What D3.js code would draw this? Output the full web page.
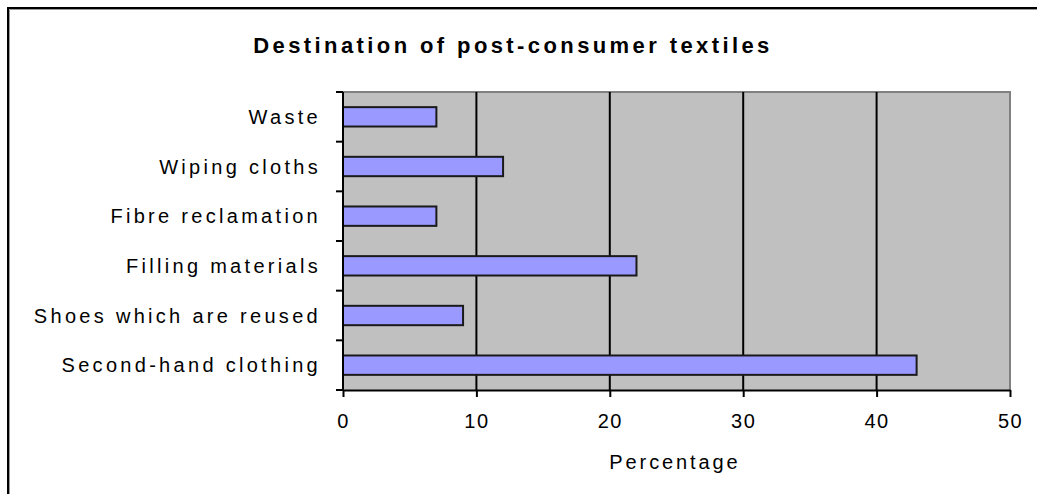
<!DOCTYPE html>
<html>
<head>
<meta charset="utf-8">
<script src="https://cdn.jsdelivr.net/npm/d3@7"></script>
<style>
  body { margin: 0; background: #fff; }
  svg { display: block; }
  text { font-family: "Liberation Sans", Arial, sans-serif; fill: #000; }
</style>
</head>
<body>
<figure id="chart" style="margin:0"></figure>
<script>
// values
const categories = ['Waste', 'Wiping cloths', 'Fibre reclamation', 'Filling materials', 'Shoes which are reused', 'Second-hand clothing'];
const percentages = [7, 12, 7, 22, 9, 43];
const xTicks = [0, 10, 20, 30, 40, 50];
const title = 'Destination of post-consumer textiles';
const xTitle = 'Percentage';

const width = 1037;
const height = 494;
const plot = {left: 343, right: 1010, top: 92, bottom: 390};

const svg = d3.select('figure#chart')
  .append('svg')
  .attr('width', width)
  .attr('height', height);

// outer chart frame (only top and left edges are inside the picture)
svg.append('path')
  .attr('d', `M8,${height} L8,8 L${width},8`)
  .attr('fill', 'none')
  .attr('stroke', '#000')
  .attr('stroke-width', 2);
svg.append('path')
  .attr('d', `M9.5,${height} L9.5,9.5 L${width},9.5`)
  .attr('fill', 'none')
  .attr('stroke', '#999')
  .attr('stroke-width', 1);

const x = d3.scaleLinear()
  .domain([0, 50])
  .range([plot.left, plot.right]);

const y = d3.scaleBand()
  .domain(categories)
  .range([plot.top, plot.bottom])
  .paddingInner(0.61)
  .paddingOuter(0.305);

// plot background
svg.append('rect')
  .attr('x', plot.left)
  .attr('y', plot.top)
  .attr('width', plot.right - plot.left)
  .attr('height', plot.bottom - plot.top)
  .attr('fill', '#c0c0c0');

// grey top / right border of the plot area
svg.append('path')
  .attr('d', `M${plot.left},${plot.top} L${plot.right},${plot.top} L${plot.right},${plot.bottom}`)
  .attr('fill', 'none')
  .attr('stroke', '#808080')
  .attr('stroke-width', 2);

// vertical gridlines
svg.append('g')
  .selectAll('line')
  .data(xTicks.filter(t => t > 0 && t < 50))
  .enter().append('line')
  .attr('x1', d => x(d))
  .attr('x2', d => x(d))
  .attr('y1', plot.top)
  .attr('y2', plot.bottom)
  .attr('stroke', '#000')
  .attr('stroke-width', 2);

// bars
svg.append('g')
  .selectAll('rect')
  .data(categories)
  .enter().append('rect')
  .attr('x', x(0))
  .attr('y', d => y(d))
  .attr('width', (d, i) => x(percentages[i]) - x(0))
  .attr('height', y.bandwidth())
  .attr('fill', '#9999ff')
  .attr('stroke', '#1a1a1a')
  .attr('stroke-width', 2);

// x axis
const xAxis = svg.append('g')
  .attr('transform', `translate(0,${plot.bottom})`)
  .call(d3.axisBottom(x).tickValues(xTicks).tickSize(7).tickSizeOuter(0));
xAxis.select('.domain').attr('stroke', '#000').attr('stroke-width', 2);
xAxis.selectAll('.tick line').attr('stroke', '#000').attr('stroke-width', 2);
xAxis.selectAll('.tick text')
  .attr('y', 24)
  .style('font-size', '20px')
  .style('letter-spacing', '1.5px');

// y axis: ticks sit on the category boundaries
const step = y.step();
const boundaries = d3.range(categories.length + 1).map(i => plot.top + i * step);
const yAxis = svg.append('g');
yAxis.append('line')
  .attr('x1', plot.left)
  .attr('x2', plot.left)
  .attr('y1', plot.top)
  .attr('y2', plot.bottom)
  .attr('stroke', '#000')
  .attr('stroke-width', 2);
yAxis.selectAll('.btick')
  .data(boundaries)
  .enter().append('line')
  .attr('class', 'btick')
  .attr('x1', plot.left - 7)
  .attr('x2', plot.left)
  .attr('y1', d => d)
  .attr('y2', d => d)
  .attr('stroke', '#000')
  .attr('stroke-width', 2);
yAxis.selectAll('.label')
  .data(categories)
  .enter().append('text')
  .attr('class', 'label')
  .attr('x', 321)
  .attr('y', d => y(d) + y.bandwidth() / 2)
  .attr('dy', '0.35em')
  .attr('text-anchor', 'end')
  .style('font-size', '20px')
  .style('letter-spacing', '3.3px')
  .text(d => d);

// titles
svg.append('text')
  .attr('x', 513)
  .attr('y', 53)
  .attr('text-anchor', 'middle')
  .style('font-size', '22px')
  .style('font-weight', 'bold')
  .style('letter-spacing', '3.4px')
  .text(title);

svg.append('text')
  .attr('x', 675)
  .attr('y', 469)
  .attr('text-anchor', 'middle')
  .style('font-size', '20px')
  .style('letter-spacing', '2.9px')
  .text(xTitle);
</script>
</body>
</html>
